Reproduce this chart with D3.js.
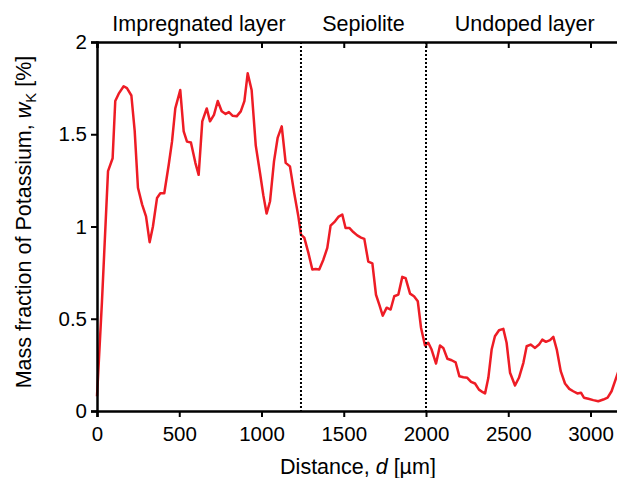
<!DOCTYPE html>
<html>
<head>
<meta charset="utf-8">
<script src="https://cdn.jsdelivr.net/npm/d3@7"></script>
<style>
  body { margin: 0; background: #fff; }
  svg { display: block; font-family: "Liberation Sans", Arial, sans-serif; }
</style>
</head>
<body>
<div id="chart"></div>
<script>
// distance along the profile, in µm
const distance = [0, 30, 67, 95, 111, 132, 162, 182, 209, 229, 249, 274, 298, 320, 340, 365, 385, 409,
  436, 456, 476, 506, 527, 547, 571, 598, 618, 640, 667, 687, 711, 734, 758, 782, 802, 825, 849, 874,
  896, 916, 940, 965, 991, 1011, 1031, 1052, 1076, 1098, 1123, 1147, 1173, 1199, 1224, 1240, 1260,
  1285, 1309, 1329, 1351, 1376, 1400, 1420, 1447, 1467, 1491, 1511, 1534, 1558, 1582, 1605, 1625,
  1649, 1674, 1696, 1716, 1737, 1761, 1785, 1807, 1832, 1856, 1876, 1903, 1927, 1950, 1970, 1994,
  2014, 2034, 2061, 2085, 2105, 2130, 2156, 2180, 2203, 2227, 2251, 2274, 2298, 2322, 2345, 2359,
  2379, 2399, 2419, 2444, 2470, 2490, 2511, 2541, 2565, 2592, 2612, 2636, 2663, 2687, 2707, 2729,
  2754, 2774, 2795, 2819, 2845, 2871, 2895, 2920, 2942, 2960, 2987, 3017, 3047, 3078, 3104, 3128, 3159, 3175];
// mass fraction of potassium, %
const wk = [0.08, 0.59, 1.30, 1.37, 1.68, 1.72, 1.76, 1.75, 1.71, 1.52, 1.21, 1.12, 1.055, 0.915, 1.0,
  1.155, 1.18, 1.18, 1.335, 1.46, 1.64, 1.74, 1.515, 1.46, 1.455, 1.345, 1.28, 1.57, 1.64, 1.57,
  1.605, 1.68, 1.625, 1.61, 1.62, 1.60, 1.597, 1.624, 1.68, 1.83, 1.74, 1.44, 1.29, 1.17, 1.07,
  1.137, 1.353, 1.48, 1.543, 1.345, 1.326, 1.18, 1.055, 0.956, 0.94, 0.857, 0.767, 0.77, 0.767,
  0.82, 0.884, 1.005, 1.028, 1.052, 1.065, 0.992, 0.992, 0.97, 0.952, 0.94, 0.933, 0.81, 0.80,
  0.63, 0.577, 0.517, 0.56, 0.55, 0.622, 0.631, 0.727, 0.72, 0.636, 0.622, 0.595, 0.45, 0.355,
  0.37, 0.333, 0.257, 0.355, 0.342, 0.283, 0.275, 0.264, 0.188, 0.183, 0.18, 0.158, 0.149, 0.116,
  0.102, 0.095, 0.18, 0.333, 0.405, 0.438, 0.445, 0.37, 0.207, 0.138, 0.18, 0.261, 0.351, 0.36,
  0.342, 0.36, 0.387, 0.375, 0.384, 0.402, 0.333, 0.216, 0.149, 0.12, 0.107, 0.095, 0.099, 0.072,
  0.066, 0.059, 0.053, 0.062, 0.072, 0.107, 0.188, 0.23];

const xTicks = [0, 500, 1000, 1500, 2000, 2500, 3000];
const yTicks = [0, 0.5, 1, 1.5, 2];
const boundaries = [1240, 2000];
const layerNames = ["Impregnated layer", "Sepiolite", "Undoped layer"];
const layerCenters = [620, 1620, 2600];

const W = 617, H = 478;
const margin = {top: 42, left: 97, bottom: 67};
const plotH = H - margin.top - margin.bottom;

const svg = d3.select("#chart").append("svg")
  .attr("width", W)
  .attr("height", H);

const x = d3.scaleLinear().domain([0, 3200]).range([margin.left, margin.left + 3200 * 0.1645]);
const y = d3.scaleLinear().domain([0, 2]).range([margin.top + plotH, margin.top]);

// line first, axes on top
const line = d3.line()
  .x((d, i) => x(distance[i]))
  .y(d => y(d));

svg.append("path")
  .datum(wk)
  .attr("fill", "none")
  .attr("stroke", "#ee1c25")
  .attr("stroke-width", 2.5)
  .attr("stroke-linejoin", "round")
  .attr("d", line);

// layer boundaries
svg.selectAll(".bound")
  .data(boundaries)
  .enter()
  .append("line")
    .attr("x1", d => x(d))
    .attr("x2", d => x(d))
    .attr("y1", y(2))
    .attr("y2", y(0))
    .attr("stroke", "#000")
    .attr("stroke-width", 2)
    .attr("stroke-dasharray", "2,2");

function styleAxis(g) {
  g.select(".domain").attr("stroke-width", 2.5);
  g.selectAll(".tick line").attr("stroke-width", 2);
  g.selectAll("text").attr("font-size", 20.5).attr("fill", "#000")
    .attr("font-family", "'Liberation Sans', Arial, sans-serif");
}

// bottom axis
svg.append("g")
  .attr("transform", "translate(0," + y(0) + ")")
  .call(d3.axisBottom(x).tickValues(xTicks).tickFormat(d3.format("d")).tickSizeOuter(0).tickSize(6).tickPadding(9))
  .call(styleAxis);

// top axis, ticks inward, no labels
svg.append("g")
  .attr("transform", "translate(0," + y(2) + ")")
  .call(d3.axisTop(x).tickValues(xTicks).tickFormat("").tickSizeOuter(0).tickSize(-6))
  .call(styleAxis);

// left axis
svg.append("g")
  .attr("transform", "translate(" + x(0) + ",0)")
  .call(d3.axisLeft(y).tickValues(yTicks).tickFormat(d3.format("")).tickSizeOuter(0).tickSize(6).tickPadding(4))
  .call(styleAxis);

// layer names
svg.selectAll(".layer")
  .data(layerNames)
  .enter()
  .append("text")
    .attr("x", (d, i) => x(layerCenters[i]))
    .attr("y", 31)
    .attr("text-anchor", "middle")
    .attr("font-size", 21.5)
    .text(d => d);

// x axis title
const xt = svg.append("text")
  .attr("x", 358)
  .attr("y", 474)
  .attr("text-anchor", "middle")
  .attr("font-size", 21.5);
xt.append("tspan").text("Distance, ");
xt.append("tspan").attr("font-style", "italic").text("d");
xt.append("tspan").text(" [µm]");

// y axis title
const yt = svg.append("text")
  .attr("transform", "translate(31,222) rotate(-90)")
  .attr("text-anchor", "middle")
  .attr("font-size", 21.5);
yt.append("tspan").text("Mass fraction of Potassium, ");
yt.append("tspan").attr("font-style", "italic").text("w");
yt.append("tspan").attr("font-size", 15).attr("dy", 5).text("K");
yt.append("tspan").attr("dy", -5).text(" [%]");
</script>
</body>
</html>
